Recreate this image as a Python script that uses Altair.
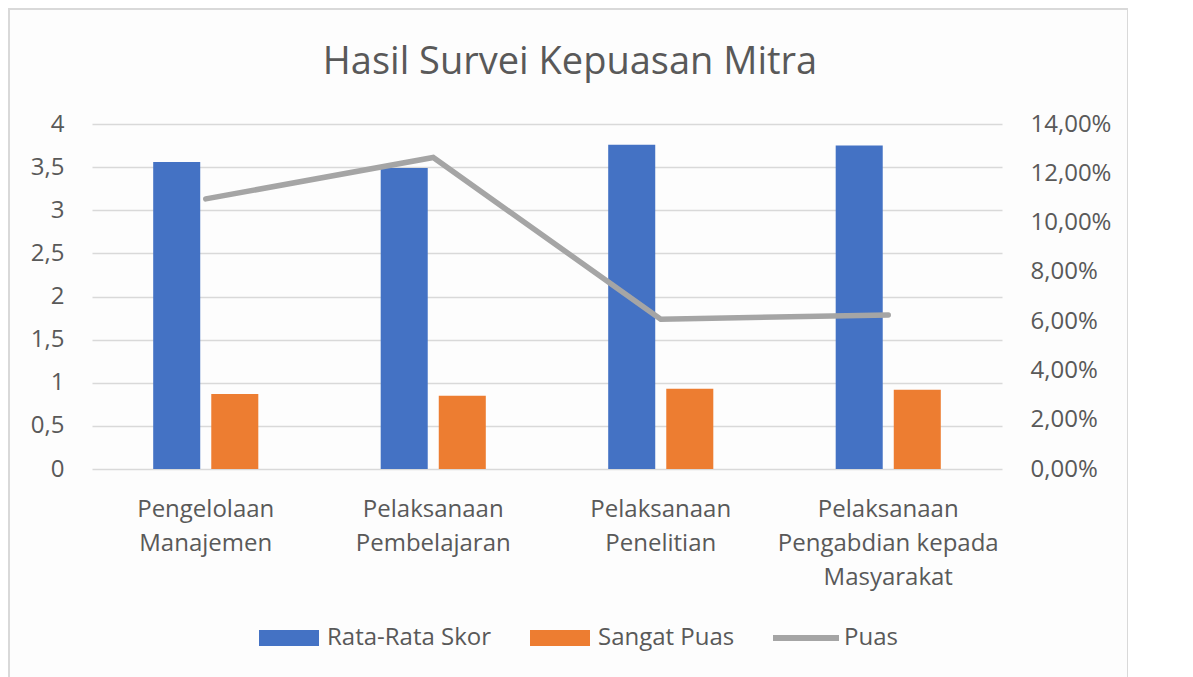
import altair as alt
import pandas as pd

categories = [
    "Pengelolaan|Manajemen",
    "Pelaksanaan|Pembelajaran",
    "Pelaksanaan|Penelitian",
    "Pelaksanaan|Pengabdian kepada|Masyarakat",
]
rata_rata_skor = [3.56, 3.49, 3.76, 3.75]
sangat_puas = [0.87, 0.85, 0.93, 0.92]
puas_pct = [10.96, 12.64, 6.08, 6.25]
series_names = ["Rata-Rata Skor", "Sangat Puas", "Puas"]
series_colors = ["#4472C4", "#ED7D31", "#A5A5A5"]
left_ticks = [0, 0.5, 1, 1.5, 2, 2.5, 3, 3.5, 4]
right_ticks = [0, 2, 4, 6, 8, 10, 12, 14]

FONT = "Open Sans"
TXT = "#595959"
FS = 24

bars_df = pd.DataFrame({
    "category": categories * 2,
    "series": [series_names[0]] * 4 + [series_names[1]] * 4,
    "value": rata_rata_skor + sangat_puas,
})
line_df = pd.DataFrame({"category": categories, "puas": puas_pct})
frame_df = pd.DataFrame({"f": [0]})

x_enc = alt.X(
    "category:N",
    sort=categories,
    scale=alt.Scale(paddingInner=0.538, paddingOuter=0.269),
    axis=alt.Axis(
        title=None, labelAngle=0, labelExpr="split(datum.label, '|')",
        labelFont=FONT, labelFontSize=FS, labelColor=TXT, labelLineHeight=34,
        labelPadding=28, labelLimit=400, domain=False, ticks=False, grid=False,
    ),
)

frame = alt.Chart(frame_df).mark_rect(
    fill="transparent", stroke="#D9D9D9", strokeWidth=2
).encode(
    x=alt.value(-83), x2=alt.value(1036), y=alt.value(-115), y2=alt.value(570)
)

bars = alt.Chart(bars_df).mark_bar().encode(
    x=x_enc,
    xOffset=alt.XOffset("series:N", sort=series_names[:2],
                        scale=alt.Scale(paddingInner=0.19, paddingOuter=0)),
    y=alt.Y(
        "value:Q",
        scale=alt.Scale(domain=[0, 4], nice=False),
        axis=alt.Axis(
            title=None, values=left_ticks, orient="left",
            labelExpr="replace(toString(datum.value), '.', ',')",
            labelFont=FONT, labelFontSize=FS, labelColor=TXT, labelPadding=28,
            grid=True, gridColor="#D9D9D9", gridWidth=1.3,
            domain=False, ticks=False,
        ),
    ),
    color=alt.Color(
        "series:N",
        scale=alt.Scale(domain=series_names, range=series_colors),
        legend=alt.Legend(
            title=None, orient="none", legendX=167, legendY=484,
            direction="horizontal", symbolSize=3600, padding=0,
            symbolType={"expr": "datum.value === 'Puas' ? 'M-1.1,-0.1H1.1V0.1H-1.1Z' : 'M-1,-0.267H1V0.267H-1Z'"},
            symbolStrokeWidth=0,
            labelFont=FONT, labelFontSize=FS, labelColor=TXT, labelLimit=400,
            labelOffset=8, columnPadding=38,
        ),
    ),
)

line = alt.Chart(line_df).mark_line(
    color="#A5A5A5", strokeWidth=5.5, strokeCap="round"
).encode(
    x=alt.X("category:N", sort=categories),
    y=alt.Y(
        "puas:Q",
        scale=alt.Scale(domain=[0, 14], nice=False),
        axis=alt.Axis(
            title=None, values=right_ticks, orient="right",
            labelExpr="replace(format(datum.value, '.2f'), '.', ',') + '%'",
            labelFont=FONT, labelFontSize=FS, labelColor=TXT, labelPadding=28,
            grid=False, domain=False, ticks=False,
        ),
    ),
)

chart = alt.layer(frame, bars, line).resolve_scale(y="independent").properties(
    width=910,
    height=345,
    padding={"left": 84, "top": 116, "right": 126, "bottom": 208},
    autosize=alt.AutoSizeParams(type="none"),
    background="#FDFDFD",
    title=alt.TitleParams(
        "Hasil Survei Kepuasan Mitra", font=FONT, fontSize=38, fontWeight="normal",
        color=TXT, anchor="middle", dx=23, offset=-104, baseline="alphabetic",
        frame="group",
    ),
).configure_view(stroke=None)

chart.save("out.html", embed_options={"renderer": "svg", "actions": False})
